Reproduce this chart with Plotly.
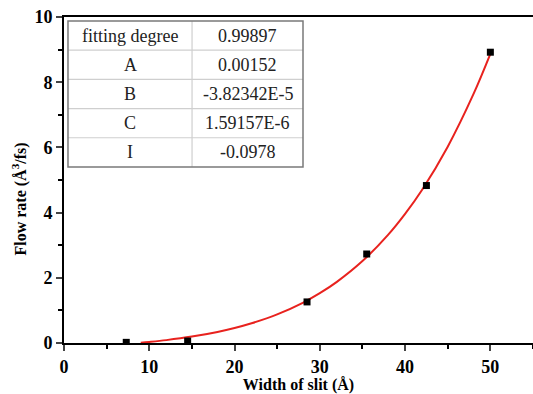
import plotly.graph_objects as go

# measured data points
width_slit = [7.3, 14.5, 28.5, 35.5, 42.5, 50.0]
flow_rate = [0.02, 0.06, 1.26, 2.73, 4.83, 8.92]

# fitted curve values
fit_x = [9, 10, 12, 15, 18, 20, 22, 25, 28, 30, 32, 35, 38, 40, 42, 45, 48, 50]
fit_y = [0.008, 0.032, 0.088, 0.196, 0.339, 0.459, 0.604, 0.877, 1.233, 1.527,
         1.875, 2.513, 3.318, 3.962, 4.703, 6.023, 7.625, 8.870]

# fit table
param_names = ["fitting degree", "A", "B", "C", "I"]
param_values = ["0.99897", "0.00152", "-3.82342E-5", "1.59157E-6", "-0.0978"]

x_ticks = [0, 10, 20, 30, 40, 50]
y_ticks = [0, 2, 4, 6, 8, 10]

serif = "Liberation Serif"

fig = go.Figure()

fig.add_trace(go.Scatter(
    x=fit_x, y=fit_y, mode="lines",
    line=dict(color="#e8221e", width=2, shape="spline"),
    showlegend=False, hoverinfo="skip",
))
fig.add_trace(go.Scatter(
    x=width_slit, y=flow_rate, mode="markers",
    marker=dict(symbol="square", size=7, color="black"),
    showlegend=False,
))

# table geometry in paper (plot-area) fractions
tx0, tx1, tmid = 0.0085, 0.5096, 0.273
ty0, ty1 = 0.54, 0.988
n = len(param_names)
rh = (ty1 - ty0) / n
shapes = []
annotations = []
shapes.append(dict(type="rect", xref="paper", yref="paper", x0=tx0, x1=tx1, y0=ty0, y1=ty1,
                   fillcolor="white", line=dict(width=0), layer="above"))
for i in range(1, n):
    yy = ty1 - i * rh
    shapes.append(dict(type="line", xref="paper", yref="paper", x0=tx0, x1=tx1, y0=yy, y1=yy,
                       line=dict(color="#cfcfcf", width=1.2), layer="above"))
shapes.append(dict(type="line", xref="paper", yref="paper", x0=tmid, x1=tmid, y0=ty0, y1=ty1,
                   line=dict(color="#cfcfcf", width=1.2), layer="above"))
shapes.append(dict(type="rect", xref="paper", yref="paper", x0=tx0, x1=tx1, y0=ty0, y1=ty1,
                   line=dict(color="#7a7a7a", width=1.5), layer="above"))
cell_font = dict(family=serif, size=18, color="#222222")
for i, (nm, val) in enumerate(zip(param_names, param_values)):
    yc = ty1 - (i + 0.5) * rh
    annotations.append(dict(text=nm, xref="paper", yref="paper", x=(tx0 + tmid) / 2, y=yc,
                            showarrow=False, font=cell_font, xanchor="center", yanchor="middle"))
    annotations.append(dict(text=val, xref="paper", yref="paper", x=(tmid + tx1) / 2, y=yc,
                            showarrow=False, font=cell_font, xanchor="center", yanchor="middle"))

# y-axis title as a rotated annotation
annotations.append(dict(text="<b>Flow rate (Å<sup>3</sup>/fs)</b>", xref="paper", yref="paper",
                        x=0, xshift=-44, y=0.44, textangle=-90, showarrow=False,
                        xanchor="center", yanchor="middle",
                        font=dict(family=serif, size=16, color="black")))

fig.update_layout(
    width=533, height=394,
    margin=dict(l=64, r=0, t=17, b=51),
    paper_bgcolor="white", plot_bgcolor="white",
    shapes=shapes, annotations=annotations,
    xaxis=dict(
        range=[0, 55], tickvals=x_ticks, ticks="outside", ticklen=6, tickwidth=2,
        showline=True, linecolor="black", linewidth=2, mirror=True,
        showgrid=False, zeroline=False,
        minor=dict(dtick=5, ticks="outside", ticklen=4, tickwidth=2, tickcolor="black"),
        tickfont=dict(family=serif, size=18, color="black", weight="bold"),
        title=dict(text="<b>Width of slit (Å)</b>", font=dict(family=serif, size=16, color="black"), standoff=3),
    ),
    yaxis=dict(
        range=[0, 10], tickvals=y_ticks, ticks="outside", ticklen=6, tickwidth=2,
        showline=True, linecolor="black", linewidth=2,
        showgrid=False, zeroline=False,
        minor=dict(dtick=1, ticks="outside", ticklen=4, tickwidth=2, tickcolor="black"),
        tickfont=dict(family=serif, size=18, color="black", weight="bold"),
    ),
)

fig.write_html("out.html")
